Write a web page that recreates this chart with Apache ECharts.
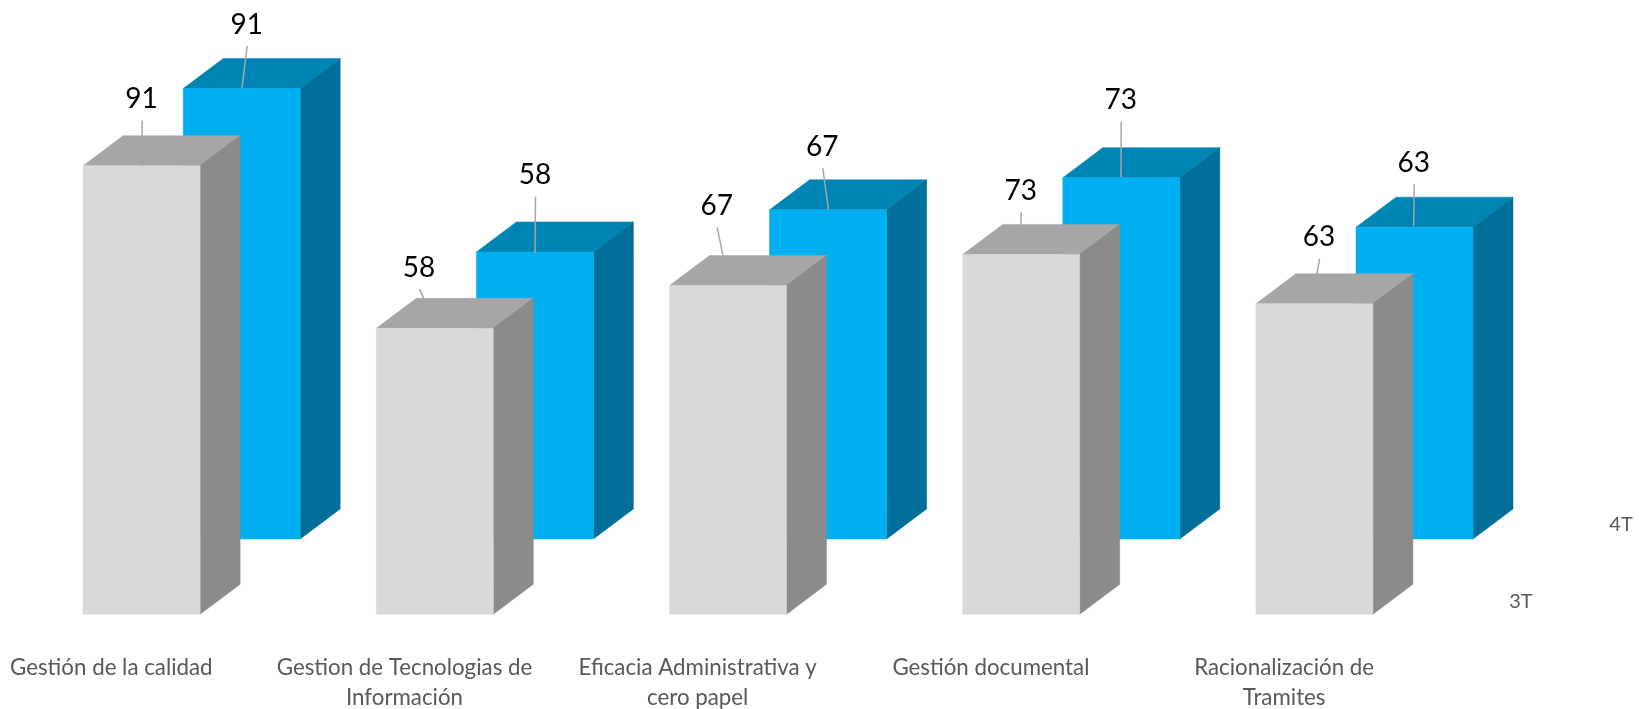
<!DOCTYPE html>
<html>
<head>
<meta charset="utf-8">
<style>html,body{margin:0;padding:0;background:#fff}#c{width:1639px;height:709px}</style>
<script src="https://cdn.jsdelivr.net/npm/echarts@6/dist/echarts.min.js"></script>
</head>
<body>
<div id="c"></div>
<script>
const categories = [
  'Gestión de la calidad',
  'Gestion de Tecnologias de\nInformación',
  'Eficacia Administrativa y\ncero papel',
  'Gestión documental',
  'Racionalización de\nTramites'
];
const seriesNames = ['3T', '4T'];
const values3T = [91, 58, 66.7, 73, 63];
const values4T = [91, 58, 66.5, 73, 63];

// Hand-placed label offsets from each bar's front-top centre, as in the reference
const labelOffset3T = [[0,-67.7],[-15.8,-61.7],[-11.3,-80.5],[-0.5,-64.4],[4.6,-67.7]];
const labelOffset4T = [[5,-65.1],[0.1,-77.9],[-5.8,-64.2],[-0.6,-78.4],[-0.8,-65.3]];
const leaderEnd3T = [[0.4,0.3],[-10.8,-29.4],[-5,-29.5],[-0.2,-29.4],[2.6,-29.7]];
const leaderEnd4T = [[0.3,-0.6],[0.1,1.1],[0.4,0],[-0.3,-0.7],[-0.8,-1]];

const FONT = 'Lato, Carlito, sans-serif';
const DEPTH_X = 40, DEPTH_Y = 30, BAR_RATIO = 117 / 293.2;

function prism(colors, shift, labelOffset, leaderEnd, name, depthLabelDy) {
  return function (params, api) {
    const i = api.value(0), v = api.value(1);
    const top = api.coord([i, v]), base = api.coord([i, 0]);
    const band = api.size([1, 0])[0];
    const w = band * BAR_RATIO;
    const cx = top[0] + shift;
    const l = cx - w / 2, r = cx + w / 2, t = top[1], b = base[1];
    const poly = (pts, fill) => ({
      type: 'polygon', shape: { points: pts },
      style: { fill: fill, stroke: fill, lineWidth: 0.5 }
    });
    const lo = labelOffset[i], le = leaderEnd[i];
    const children = [
      poly([[l, t], [r, t], [r + DEPTH_X, t - DEPTH_Y], [l + DEPTH_X, t - DEPTH_Y]], colors.top),
      poly([[r, t], [r + DEPTH_X, t - DEPTH_Y], [r + DEPTH_X, b - DEPTH_Y], [r, b]], colors.side),
      poly([[l, t], [r, t], [r, b], [l, b]], colors.front),
      { type: 'line',
        shape: { x1: cx + lo[0] + 0.5, y1: t + lo[1] + 22.5, x2: cx + le[0], y2: t + le[1] },
        style: { stroke: '#A6A6A6', lineWidth: 1.5 } },
      { type: 'text',
        style: { x: cx + lo[0], y: t + lo[1] + 1.2, text: String(Math.round(v)),
          fontSize: 28, fontFamily: FONT, fill: '#000', align: 'center', verticalAlign: 'middle' } }
    ];
    if (i === categories.length - 1) {
      children.push({ type: 'text',
        style: { x: cx + 206.5, y: b + depthLabelDy, text: name,
          fontSize: 20, fontFamily: FONT, fill: '#595959', align: 'center', verticalAlign: 'middle' } });
    }
    return { type: 'group', children: children };
  };
}

const chart = echarts.init(document.getElementById('c'), null, { renderer: 'canvas' });
chart.setOption({
  animation: false,
  backgroundColor: '#fff',
  tooltip: { show: false },
  grid: [
    { left: -35.3, width: 1466, top: 121.3, height: 493, outerBoundsMode: 'none' },
    { left: 95.1, width: 1466, top: 44, height: 495, outerBoundsMode: 'none' }
  ],
  xAxis: [
    { type: 'category', gridIndex: 0, data: categories,
      axisLine: { show: false }, axisTick: { show: false },
      axisLabel: { interval: 0, margin: 39, fontSize: 22.3, lineHeight: 30, color: '#595959', fontFamily: FONT } },
    { type: 'category', gridIndex: 1, data: categories, show: false }
  ],
  yAxis: [
    { type: 'value', gridIndex: 0, min: 0, max: 100, show: false },
    { type: 'value', gridIndex: 1, min: 0, max: 100, show: false }
  ],
  series: [
    { type: 'custom', name: seriesNames[1], xAxisIndex: 1, yAxisIndex: 1, z: 1, silent: true,
      renderItem: prism({ front: '#00B0F0', top: '#0084B4', side: '#00709B' }, 0, labelOffset4T, leaderEnd4T, seriesNames[1], -14.5),
      encode: { x: 0, y: 1 },
      data: values4T.map((v, i) => [i, v]) },
    { type: 'custom', name: seriesNames[0], xAxisIndex: 0, yAxisIndex: 0, z: 2, silent: true,
      renderItem: prism({ front: '#D9D9D9', top: '#A6A6A6', side: '#8B8B8B' }, 30.3, labelOffset3T, leaderEnd3T, seriesNames[0], -13),
      encode: { x: 0, y: 1 },
      data: values3T.map((v, i) => [i, v]) }
  ]
});
</script>
</body>
</html>
